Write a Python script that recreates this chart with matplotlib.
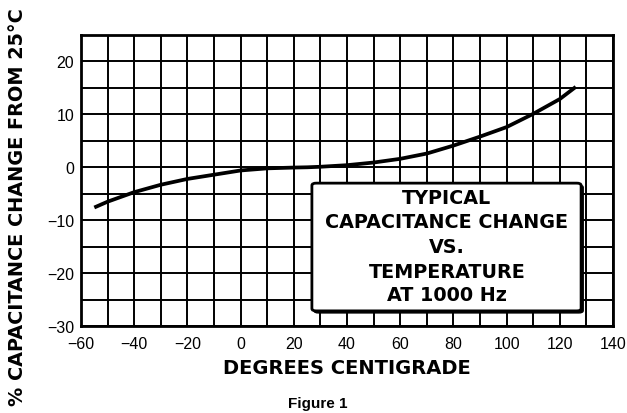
import matplotlib
matplotlib.use("Agg")
import matplotlib.pyplot as plt
from matplotlib.patches import FancyBboxPatch
from matplotlib.ticker import MultipleLocator

plt.rcParams['font.family'] = ['Liberation Sans', 'DejaVu Sans']

temps = [-55, -50, -40, -30, -20, -10, 0, 10, 20, 25, 30, 40, 50, 60, 70, 80, 90, 100, 110, 120, 126]
change = [-7.6, -6.5, -4.7, -3.3, -2.2, -1.4, -0.6, -0.2, -0.05, 0.0, 0.1, 0.4, 0.9, 1.6, 2.6, 4.1, 5.8, 7.6, 10.1, 12.9, 15.2]

x_ticks = [-60, -40, -20, 0, 20, 40, 60, 80, 100, 120, 140]
y_ticks = [-30, -20, -10, 0, 10, 20]
box_lines = ["TYPICAL", "CAPACITANCE CHANGE", "VS.", "TEMPERATURE", "AT 1000 Hz"]

bold_font = ['DejaVu Sans']

fig = plt.figure(figsize=(6.27, 4.14), dpi=100)
ax = fig.add_axes([0.1292, 0.2101, 0.8485, 0.7029])

ax.set_xlim(-60, 140)
ax.set_ylim(-30, 25)
ax.set_xticks(x_ticks)
ax.set_yticks(y_ticks)
ax.xaxis.set_minor_locator(MultipleLocator(10))
ax.yaxis.set_minor_locator(MultipleLocator(5))
ax.grid(True, which='both', color='black', linewidth=1.4)
ax.tick_params(which='both', length=0, labelsize=11.5)
ax.tick_params(axis='x', pad=7)
ax.tick_params(axis='y', pad=5)
for s in ax.spines.values():
    s.set_linewidth(2)

ax.plot(temps, change, color='black', linewidth=2.7, solid_capstyle='butt', zorder=3)

ax.set_xlabel("DEGREES CENTIGRADE", fontsize=14, fontweight='bold', labelpad=5, family=bold_font)
fig.text(0.028, 0.50, "% CAPACITANCE CHANGE FROM 25°C", rotation=90, fontsize=13.9,
         fontweight='bold', ha='center', va='center', family=bold_font)

# annotation box
bx0, by0, bw, bh = 0.434, 0.052, 0.506, 0.439
shadow = FancyBboxPatch((bx0 + 0.004, by0 - 0.007), bw, bh, boxstyle="round,pad=0,rounding_size=0.008",
                        transform=ax.transAxes, facecolor='black', edgecolor='black', zorder=4)
ax.add_patch(shadow)
box = FancyBboxPatch((bx0, by0), bw, bh, boxstyle="round,pad=0,rounding_size=0.008",
                     transform=ax.transAxes, facecolor='white', edgecolor='black', linewidth=2, zorder=5)
ax.add_patch(box)
line_y = [199, 223, 248, 272, 296]
for txt, py in zip(box_lines, line_y):
    fig.text(447 / 627, 1 - py / 414, txt, fontsize=13.8, fontweight='bold', ha='center', va='center',
             zorder=6, family=bold_font)

fig.text(318 / 627, 1 - 404 / 414, "Figure 1", fontsize=11, fontweight='bold', ha='center', va='center')

fig.savefig("out.png", dpi=100)
